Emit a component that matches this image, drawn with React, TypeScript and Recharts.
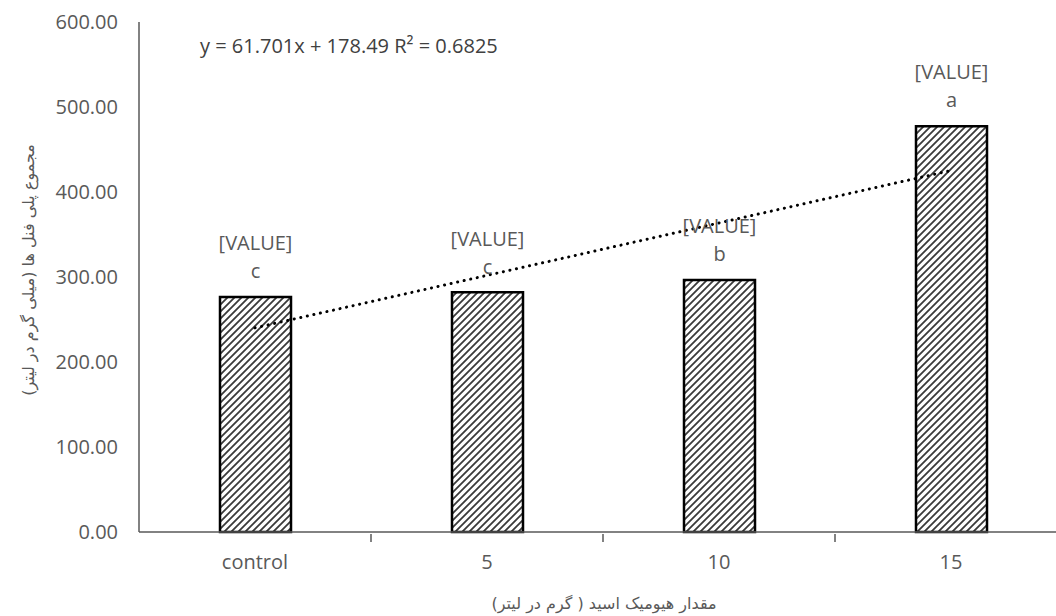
import React from 'react'
import { ComposedChart, Bar, Line, XAxis, YAxis, LabelList } from 'recharts'

const categories = ['control', '5', '10', '15']
const polyphenols = [276.5, 282, 296.5, 477.5]
const trend = [240.19, 301.89, 363.59, 425.29]
const letters = ['c', 'c', 'b', 'a']
const yTicks = [0, 100, 200, 300, 400, 500, 600]

const data = categories.map((name, i) => ({
  name,
  value: polyphenols[i],
  trend: trend[i],
  letter: letters[i],
}))

const grey = '#595959'
const font = '"Open Sans", "DejaVu Sans", sans-serif'
const fs = 20

const XTick = (props: any) => {
  const { x, y, payload, index } = props
  const half = payload && payload.offset ? payload.offset : 116
  return (
    <g>
      {index > 0 && (
        <line x1={x - half} x2={x - half} y1={y - 6} y2={y + 2} stroke={grey} strokeWidth={1.5} />
      )}
      <text x={x} y={y + 24} textAnchor="middle" dominantBaseline="middle" fill={grey} fontSize={fs} fontFamily={font}>
        {payload.value}
      </text>
    </g>
  )
}

const BarLabels = (props: any) => {
  const { x, y, width, index } = props
  const cx = x + width / 2
  return (
    <g fontFamily={font} fontSize={fs} fill={grey} textAnchor="middle">
      <text x={cx} y={y - 52} dominantBaseline="middle">[VALUE]</text>
      <text x={cx} y={y - 24} dominantBaseline="middle">{letters[index]}</text>
    </g>
  )
}

export default function App() {
  return (
    <div style={{ position: 'absolute', left: 0, top: 0, width: 1056, height: 616, overflow: 'hidden', background: '#fff' }}>
      <ComposedChart width={1080} height={616} data={data} margin={{ top: 22, right: 13, left: 0, bottom: 0 }}>
        <defs>
          <pattern id="hatch" patternUnits="userSpaceOnUse" width={7} height={7}>
            <rect width={7} height={7} fill="#fff" />
            <path d="M-1,1 l2,-2 M0,7 l7,-7 M6,8 l2,-2" stroke="#3a3a3a" strokeWidth={1.8} />
          </pattern>
        </defs>
        <XAxis
          dataKey="name"
          height={84}
          tickLine={false}
          axisLine={{ stroke: grey, strokeWidth: 1.5 }}
          tick={<XTick />}
          interval={0}
        />
        <YAxis
          width={139}
          domain={[0, 600]}
          ticks={yTicks}
          tickFormatter={(v: number) => v.toFixed(2)}
          tickLine={false}
          tickSize={6}
          tickMargin={15}
          axisLine={{ stroke: grey, strokeWidth: 1.5 }}
          tick={{ fill: grey, fontSize: fs, fontFamily: font }}
        />
        <Bar dataKey="value" barSize={71} fill="url(#hatch)" stroke="#000" strokeWidth={2.5} isAnimationActive={false}>
          <LabelList dataKey="value" content={<BarLabels />} />
        </Bar>
        <Line
          dataKey="trend"
          stroke="#000"
          strokeWidth={3}
          strokeDasharray="0.1 6.6"
          strokeLinecap="round"
          dot={false}
          activeDot={false}
          type="linear"
          isAnimationActive={false}
        />
      </ComposedChart>
      <div style={{ position: 'absolute', left: 200, top: 32, fontFamily: font, fontSize: fs, color: '#404040', whiteSpace: 'nowrap' }}>
        y = 61.701x + 178.49 R² = 0.6825
      </div>
      <div style={{ position: 'absolute', left: 604, top: 603, transform: 'translate(-50%, -50%)', fontFamily: '"DejaVu Sans", sans-serif', fontSize: 16, color: grey, whiteSpace: 'nowrap', direction: 'rtl' }}>
        مقدار هیومیک اسید ( گرم در لیتر)
      </div>
      <div style={{ position: 'absolute', left: 28, top: 270, transform: 'translate(-50%, -50%) rotate(-90deg)', fontFamily: '"DejaVu Sans", sans-serif', fontSize: 16, color: grey, whiteSpace: 'nowrap', direction: 'rtl' }}>
        مجموع پلی فنل ها (میلی گرم در لیتر)
      </div>
    </div>
  )
}
